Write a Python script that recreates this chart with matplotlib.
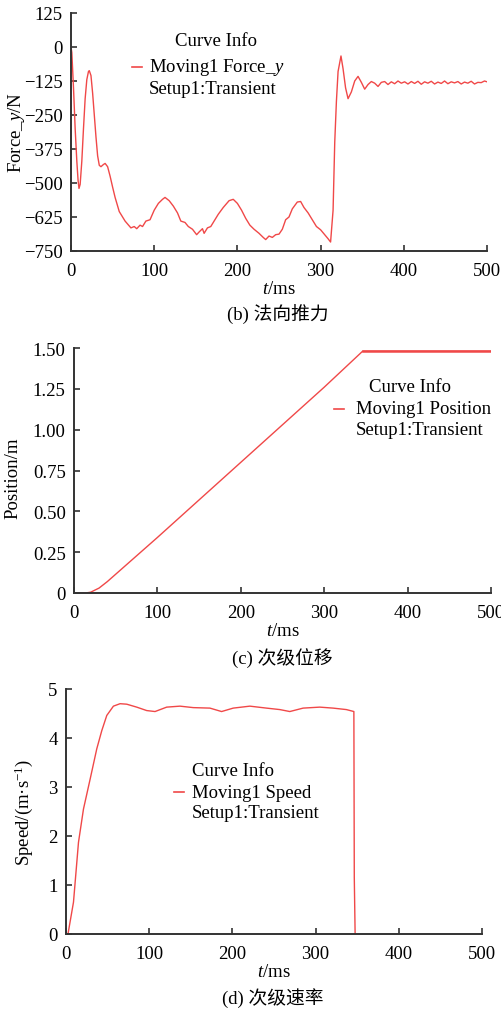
import numpy as np
import matplotlib
matplotlib.use("Agg")
import matplotlib.pyplot as plt
from matplotlib.lines import Line2D

plt.rcParams["font.family"] = ["Liberation Serif", "Noto Sans CJK SC"]
plt.rcParams["mathtext.fontset"] = "custom"
plt.rcParams["mathtext.rm"] = "Liberation Serif"
plt.rcParams["mathtext.it"] = "Liberation Serif:italic"
FS = 13.5
plt.rcParams["font.size"] = FS

# (b) 法向推力 — start-up oscillation
t_force_a = [0, 1, 3, 5, 7, 8.5, 9.6, 11, 13, 15, 17, 19, 21, 22, 24, 26, 28, 30, 32, 34, 36,
             39, 41, 44, 47, 50, 53]
f_force_a = [0, -20, -150, -300, -420, -490, -520, -505, -420, -300, -190, -120, -90, -87, -105,
             -170, -250, -330, -400, -435, -440, -432, -428, -440, -475, -515, -553]
# running section
t_force_b = [58, 65, 72, 76, 79, 83, 86, 90, 95, 100, 105, 110, 113, 118, 123, 128, 132, 137,
             141, 146, 151, 154, 158, 160, 164, 168, 172, 177, 183, 190, 195, 200, 205, 210, 215,
             220, 226, 231, 234, 238, 242, 246, 250, 254, 258, 262, 266, 272, 276, 280, 285, 290,
             295, 300, 305, 309, 312]
f_force_b = [-605, -640, -665, -660, -668, -655, -660, -640, -635, -600, -575, -560, -553, -565,
             -585, -610, -640, -645, -660, -670, -690, -680, -668, -685, -665, -660, -640, -615,
             -590, -565, -560, -575, -600, -630, -655, -670, -685, -700, -708, -695, -700, -690,
             -688, -670, -635, -625, -595, -570, -568, -590, -610, -635, -660, -672, -690, -705,
             -717]
# after leaving the primary
t_force_c = [315, 317, 319, 321, 324.5, 327, 330, 333, 337, 341, 345, 349, 353, 357, 361, 365,
             369, 373, 377, 381, 385, 389, 393, 397, 401, 405, 409, 413, 417, 421, 425, 429, 433,
             437, 441, 445, 449, 453, 457, 461, 465, 469, 473, 477, 481, 485, 489, 493, 497, 500]
f_force_c = [-600, -350, -200, -90, -33, -80, -150, -190, -165, -125, -108, -130, -155, -138,
             -127, -133, -145, -130, -127, -138, -128, -135, -125, -133, -128, -136, -127, -134,
             -126, -137, -128, -133, -126, -136, -129, -134, -125, -135, -128, -132, -127, -136,
             -129, -133, -126, -136, -130, -131, -125, -128]
t_force = t_force_a + t_force_b + t_force_c
f_force = f_force_a + f_force_b + f_force_c

# (c) 次级位移
t_pos = [0, 14, 20, 30, 40, 50, 60, 70, 80, 100, 150, 200, 250, 300, 346, 500]
p_pos = [0, 0, 0.005, 0.03, 0.07, 0.115, 0.16, 0.205, 0.25, 0.34, 0.57, 0.80, 1.03, 1.26, 1.48, 1.48]

# (d) 次级速率
t_spd = [2.4, 9, 15, 21, 29, 37, 43, 49, 57, 65, 73, 85, 97, 107, 121, 137, 153, 173, 187, 201,
         221, 241, 257, 269, 285, 305, 321, 337, 346, 346.5, 347.5]
v_spd = [0, 0.65, 1.87, 2.55, 3.16, 3.78, 4.15, 4.46, 4.65, 4.70, 4.69, 4.63, 4.56, 4.54, 4.63,
         4.65, 4.62, 4.61, 4.54, 4.61, 4.65, 4.61, 4.58, 4.54, 4.61, 4.63, 4.61, 4.58, 4.54, 1.15, 0]

RED = "#f04848"
AXC = "#333333"
W, H = 502, 1012

fig = plt.figure(figsize=(W / 100, H / 100), dpi=100)


def px_axes(x0, y0, x1, y1):
    return fig.add_axes([x0 / W, 1 - y1 / H, (x1 - x0) / W, (y1 - y0) / H])


def style(ax):
    for s in ["top", "right"]:
        ax.spines[s].set_visible(False)
    for s in ["left", "bottom"]:
        ax.spines[s].set_color(AXC)
        ax.spines[s].set_linewidth(1.4)
    ax.tick_params(direction="in", length=4, width=1.2, color=AXC, labelsize=FS)
    ax.tick_params(axis="x", pad=8)
    ax.tick_params(axis="y", pad=6)
    ax.set_xlim(0, 500)
    ax.set_xticks([0, 100, 200, 300, 400, 500])


def legend(x_line, y1, x_text, title_x, title_y, label, ha_title="center"):
    fig.text(title_x / W, 1 - title_y / H, "Curve Info", ha=ha_title, va="center", fontsize=FS)
    fig.add_artist(Line2D([x_line / W, (x_line + 10) / W], [1 - y1 / H, 1 - y1 / H],
                          color=RED, lw=1.2))
    fig.text(x_text / W, 1 - y1 / H, label, ha="left", va="center", fontsize=FS)
    fig.text(x_text / W, 1 - (y1 + 21) / H, "Setup1:Transient", ha="left", va="center", fontsize=FS)


# panel b
ax1 = px_axes(71, 14, 487, 252)
ax1.plot(t_force, f_force, color=RED, lw=1.0)
style(ax1)
ax1.set_ylim(-750, 125)
ax1.set_yticks([125, 0, -125, -250, -375, -500, -625, -750])
ax1.set_yticklabels(["125", "0", "\u2212125", "\u2212250", "\u2212375", "\u2212500", "\u2212625", "\u2212750"])
ax1.set_ylabel("Force_$y$/N", fontsize=FS)
ax1.yaxis.set_label_coords(-0.106, 0.5)
ax1.set_xlabel("$t$/ms", fontsize=FS, labelpad=1)
fig.text(278 / W, 1 - 314 / H, "(b) 法向推力", ha="center", va="center", fontsize=FS)
legend(132, 68, 149, 216, 42, "Moving1 Force_$y$")

# panel c
ax2 = px_axes(74, 349, 491, 594)
ax2.plot(t_pos, p_pos, color=RED, lw=1.0)
ax2.plot(t_pos[-2:], p_pos[-2:], color=RED, lw=1.8)
style(ax2)
ax2.set_ylim(0, 1.5)
ax2.set_yticks([0, 0.25, 0.5, 0.75, 1.0, 1.25, 1.5])
ax2.set_yticklabels(["0", "0.25", "0.50", "0.75", "1.00", "1.25", "1.50"])
ax2.set_ylabel("Position/m", fontsize=FS)
ax2.yaxis.set_label_coords(-0.127, 0.473)
ax2.set_xlabel("$t$/ms", fontsize=FS, labelpad=1)
fig.text(282 / W, 1 - 658 / H, "(c) 次级位移", ha="center", va="center", fontsize=FS)
legend(334, 410, 356, 410, 387, "Moving1 Position")

# panel d
ax3 = px_axes(66, 690, 482, 935)
ax3.plot(t_spd, v_spd, color=RED, lw=1.0)
style(ax3)
ax3.set_ylim(0, 5)
ax3.set_yticks([0, 1, 2, 3, 4, 5])
ax3.set_ylabel("Speed/(m\u00b7s$^{-1}$)", fontsize=FS)
ax3.yaxis.set_label_coords(-0.075, 0.5)
ax3.set_xlabel("$t$/ms", fontsize=FS, labelpad=1)
fig.text(273 / W, 1 - 998 / H, "(d) 次级速率", ha="center", va="center", fontsize=FS)
legend(174, 793, 192, 192, 772, "Moving1 Speed", ha_title="left")

fig.savefig("out.png", dpi=100)
